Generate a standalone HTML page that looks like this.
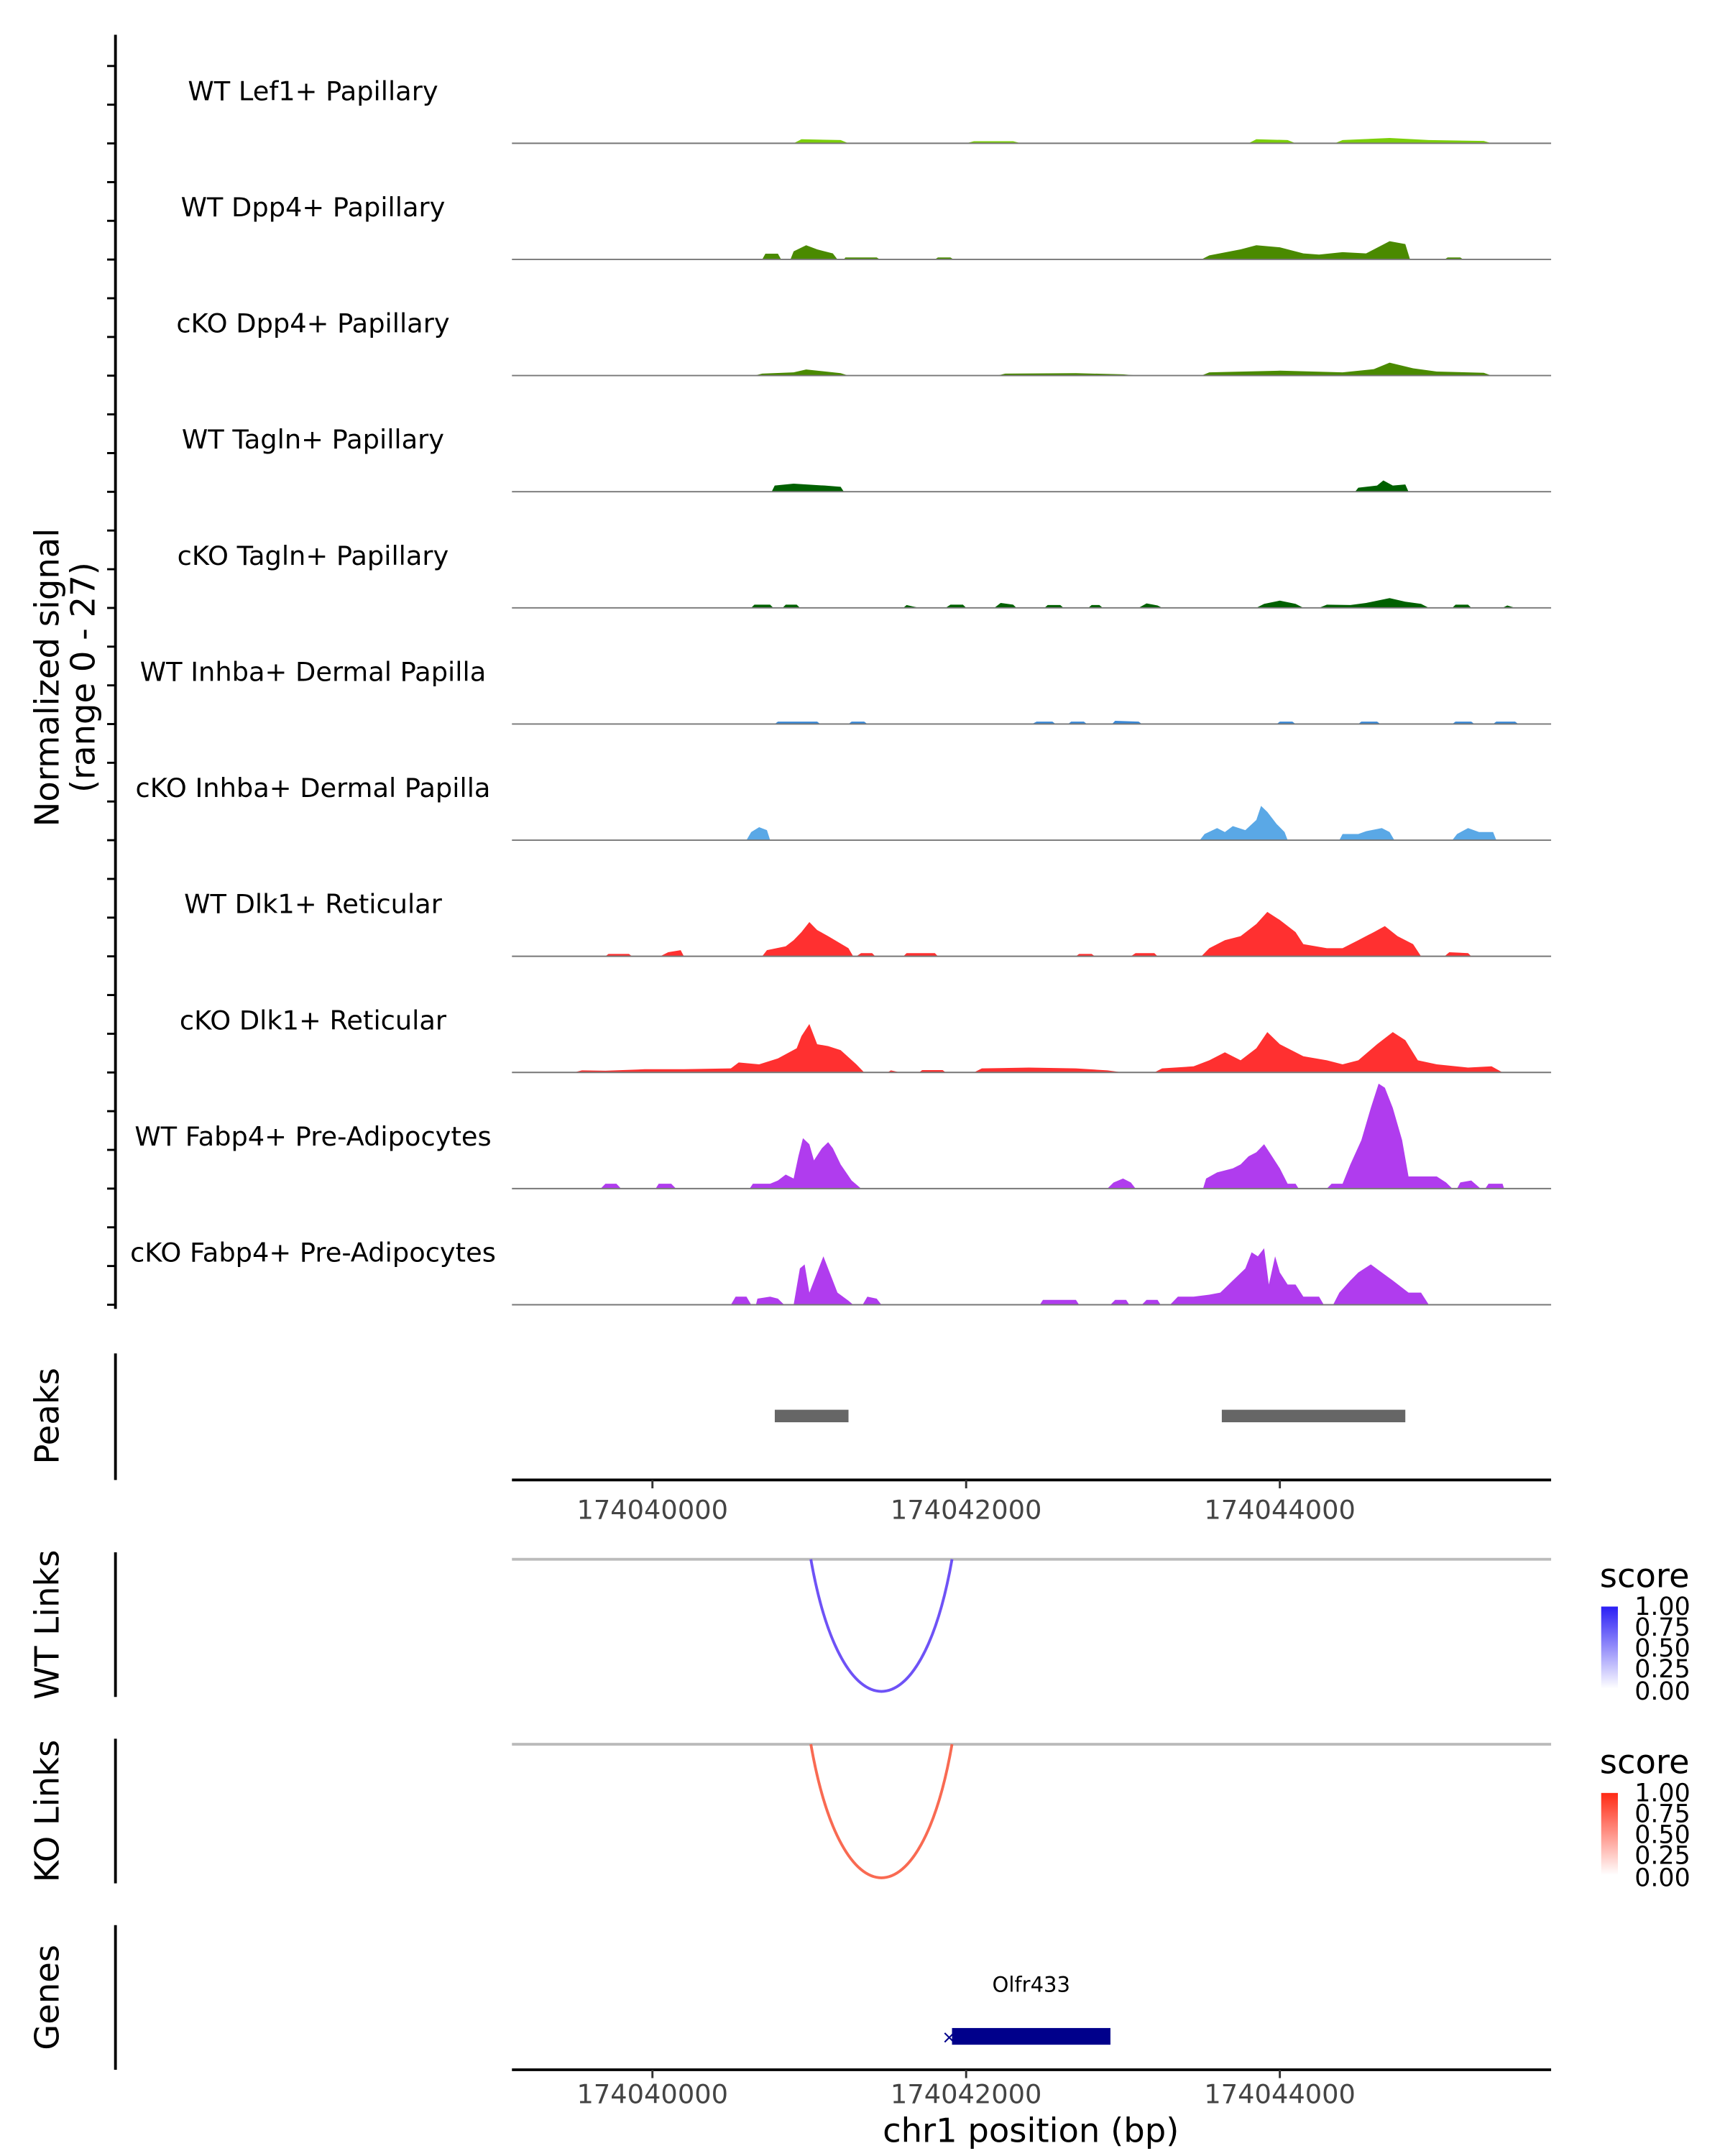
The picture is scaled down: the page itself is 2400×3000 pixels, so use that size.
<!DOCTYPE html>
<html><head><meta charset="utf-8"><style>html,body{margin:0;padding:0;background:#fff}svg{display:block}text{font-family:"DejaVu Sans","Liberation Sans",sans-serif}</style></head>
<body>
<svg id="chart" xmlns="http://www.w3.org/2000/svg" width="2400" height="3000" viewBox="0 0 1240 1550">
<defs>
<linearGradient id="gBlue" x1="0" y1="1" x2="0" y2="0"><stop offset="0" stop-color="#ffffff"/><stop offset="1" stop-color="#2a1ef5"/></linearGradient>
<linearGradient id="gRed" x1="0" y1="1" x2="0" y2="0"><stop offset="0" stop-color="#ffffff"/><stop offset="1" stop-color="#ff2a14"/></linearGradient>
</defs>
<g id="static">
<line x1="83" y1="25" x2="83" y2="941" stroke="#000" stroke-width="2"/>
<text transform="translate(42,487) rotate(-90)" text-anchor="middle" font-size="24" fill="#000">Normalized signal</text>
<text transform="translate(68,487) rotate(-90)" text-anchor="middle" font-size="24" fill="#000">(range 0 - 27)</text>

<line x1="83" y1="973" x2="83" y2="1064" stroke="#000" stroke-width="2"/>
<text transform="translate(42,1018) rotate(-90)" text-anchor="middle" font-size="24">Peaks</text>
<line x1="368" y1="1064" x2="1115" y2="1064" stroke="#000" stroke-width="2"/>

<line x1="83" y1="1116" x2="83" y2="1220" stroke="#000" stroke-width="2"/>
<text transform="translate(42,1168) rotate(-90)" text-anchor="middle" font-size="24">WT Links</text>
<line x1="368" y1="1121" x2="1115" y2="1121" stroke="#bbb" stroke-width="2"/>

<line x1="83" y1="1250" x2="83" y2="1354" stroke="#000" stroke-width="2"/>
<text transform="translate(42,1302) rotate(-90)" text-anchor="middle" font-size="24">KO Links</text>
<line x1="368" y1="1254" x2="1115" y2="1254" stroke="#bbb" stroke-width="2"/>

<line x1="83" y1="1384" x2="83" y2="1488" stroke="#000" stroke-width="2"/>
<text transform="translate(42,1436) rotate(-90)" text-anchor="middle" font-size="24">Genes</text>
<line x1="368" y1="1488" x2="1115" y2="1488" stroke="#000" stroke-width="2"/>
<text x="741" y="1540" text-anchor="middle" font-size="24">chr1 position (bp)</text>

<g>
<text x="1150" y="1141" font-size="24">score</text>
<rect x="1151" y="1155" width="12" height="59" fill="url(#gBlue)"/>
<text x="1175" y="1161" font-size="18">1.00</text><text x="1175" y="1176" font-size="18">0.75</text><text x="1175" y="1191" font-size="18">0.50</text><text x="1175" y="1206" font-size="18">0.25</text><text x="1175" y="1222" font-size="18">0.00</text>
</g>
<g>
<text x="1150" y="1275" font-size="24">score</text>
<rect x="1151" y="1289" width="12" height="59" fill="url(#gRed)"/>
<text x="1175" y="1295" font-size="18">1.00</text><text x="1175" y="1310" font-size="18">0.75</text><text x="1175" y="1325" font-size="18">0.50</text><text x="1175" y="1340" font-size="18">0.25</text><text x="1175" y="1356" font-size="18">0.00</text>
</g>
</g>
<g id="dyn"></g>
</svg>
<script>
const trackNames = ["WT Lef1+ Papillary","WT Dpp4+ Papillary","cKO Dpp4+ Papillary","WT Tagln+ Papillary","cKO Tagln+ Papillary","WT Inhba+ Dermal Papilla","cKO Inhba+ Dermal Papilla","WT Dlk1+ Reticular","cKO Dlk1+ Reticular","WT Fabp4+ Pre-Adipocytes","cKO Fabp4+ Pre-Adipocytes"];
const trackColors = ["#7ccf0a","#4a8a00","#4a8a00","#006000","#006000","#3a88d6","#5aa8e6","#ff3030","#ff3030","#b03cee","#b03cee"];
// signal points: [kb offset from 174,040,000, normalized value]
const sigLef1 = [[0.9,0],[0.95,1],[1.2,0.8],[1.25,0],[2.0,0],[2.05,0.5],[2.3,0.5],[2.35,0],[3.8,0],[3.85,1],[4.05,0.8],[4.1,0],[4.35,0],[4.4,0.8],[4.7,1.3],[4.95,0.8],[5.3,0.6],[5.35,0]];
const sigWtDpp4 = [[0.7,0],[0.72,1.4],[0.8,1.4],[0.82,0],[0.88,0],[0.9,2],[0.98,3.5],[1.05,2.5],[1.15,1.5],[1.18,0],[1.22,0],[1.23,0.5],[1.43,0.5],[1.45,0],[1.8,0],[1.82,0.5],[1.9,0.5],[1.92,0],[3.5,0],[3.55,1],[3.75,2.5],[3.85,3.5],[4.0,3],[4.15,1.5],[4.25,1.2],[4.4,1.8],[4.55,1.5],[4.6,2.5],[4.7,4.5],[4.8,3.8],[4.83,0],[5.05,0],[5.07,0.5],[5.15,0.5],[5.17,0]];
const sigKoDpp4 = [[0.65,0],[0.7,0.5],[0.9,0.8],[0.98,1.5],[1.2,0.6],[1.25,0],[2.2,0],[2.25,0.5],[2.7,0.6],[3.0,0.3],[3.1,0],[3.5,0],[3.55,0.8],[4.0,1.2],[4.4,0.8],[4.6,1.6],[4.7,3.2],[4.85,1.8],[5.0,1.0],[5.3,0.7],[5.35,0]];
const sigWtTagln = [[0.76,0],[0.78,1.5],[0.9,2],[1.1,1.5],[1.2,1.2],[1.22,0],[4.48,0],[4.5,1],[4.62,1.5],[4.66,2.8],[4.72,1.5],[4.8,1.8],[4.82,0]];
const sigKoTagln = [[0.63,0],[0.65,0.8],[0.75,0.8],[0.77,0],[0.83,0],[0.85,0.8],[0.92,0.8],[0.94,0],[1.6,0],[1.62,0.7],[1.7,0],[1.87,0],[1.9,0.8],[1.98,0.8],[2.0,0],[2.18,0],[2.22,1.2],[2.3,0.8],[2.32,0],[2.5,0],[2.52,0.7],[2.6,0.7],[2.62,0],[2.78,0],[2.8,0.7],[2.85,0.7],[2.87,0],[3.1,0],[3.15,1.1],[3.22,0.6],[3.25,0],[3.85,0],[3.9,1],[4.0,1.8],[4.1,1],[4.15,0],[4.25,0],[4.3,0.8],[4.45,0.7],[4.55,1.2],[4.7,2.4],[4.8,1.5],[4.9,1],[4.95,0],[5.1,0],[5.12,0.8],[5.2,0.8],[5.22,0],[5.42,0],[5.45,0.6],[5.5,0]];
const sigWtInhba = [[0.78,0],[0.8,0.6],[1.05,0.6],[1.07,0],[1.25,0],[1.27,0.6],[1.35,0.6],[1.37,0],[2.42,0],[2.45,0.6],[2.55,0.6],[2.57,0],[2.65,0],[2.67,0.6],[2.75,0.6],[2.77,0],[2.93,0],[2.95,0.8],[3.1,0.6],[3.12,0],[3.98,0],[4.0,0.6],[4.08,0.6],[4.1,0],[4.5,0],[4.52,0.6],[4.62,0.6],[4.64,0],[5.1,0],[5.12,0.6],[5.22,0.6],[5.24,0],[5.36,0],[5.38,0.6],[5.5,0.6],[5.52,0]];
const sigKoInhba = [[0.6,0],[0.63,2],[0.68,3.2],[0.73,2.5],[0.75,0],[3.49,0],[3.52,1.5],[3.6,3],[3.65,2],[3.7,3.5],[3.78,2.5],[3.85,5],[3.88,8.5],[3.92,7],[3.98,4],[4.03,2],[4.05,0],[4.38,0],[4.4,1.5],[4.5,1.5],[4.55,2.2],[4.65,3],[4.7,2],[4.73,0],[5.1,0],[5.13,1.5],[5.2,3],[5.27,2],[5.36,2],[5.38,0]];
const sigWtDlk1 = [[-0.3,0],[-0.28,0.6],[-0.15,0.6],[-0.13,0],[0.05,0],[0.1,1],[0.18,1.5],[0.2,0],[0.7,0],[0.73,1.5],[0.85,2.5],[0.9,4],[0.95,6],[1.0,8.5],[1.05,6.5],[1.12,5],[1.25,2],[1.28,0],[1.3,0],[1.33,0.8],[1.4,0.8],[1.42,0],[1.6,0],[1.62,0.8],[1.8,0.8],[1.82,0],[2.7,0],[2.72,0.6],[2.8,0.6],[2.82,0],[3.05,0],[3.08,0.8],[3.2,0.8],[3.22,0],[3.5,0],[3.55,2],[3.65,4],[3.75,5],[3.85,8],[3.92,11],[4.0,9],[4.1,6],[4.15,3],[4.3,2],[4.4,2],[4.5,4],[4.6,6],[4.67,7.5],[4.75,5],[4.85,3],[4.9,0],[5.05,0],[5.08,1],[5.2,0.8],[5.22,0]];
const sigKoDlk1 = [[-0.5,0],[-0.45,0.5],[-0.3,0.4],[-0.05,0.8],[0.2,0.8],[0.5,1],[0.55,2.5],[0.68,2],[0.8,3.5],[0.92,6],[0.95,9],[1.0,12],[1.05,7],[1.12,6.5],[1.2,5.5],[1.3,2],[1.35,0],[1.5,0],[1.52,0.5],[1.58,0],[1.7,0],[1.72,0.6],[1.85,0.6],[1.87,0],[2.05,0],[2.1,1],[2.4,1.2],[2.7,1],[2.9,0.5],[3.0,0],[3.2,0],[3.25,1],[3.45,1.5],[3.55,3],[3.65,5],[3.75,3],[3.85,6],[3.92,10],[4.0,7],[4.15,4],[4.3,3],[4.4,2],[4.5,3],[4.62,7],[4.72,10],[4.8,8],[4.88,3],[5.0,2],[5.2,1.2],[5.35,1.5],[5.42,0]];
const sigWtFabp4 = [[-0.33,0],[-0.3,1.2],[-0.23,1.2],[-0.2,0],[0.02,0],[0.04,1.2],[0.12,1.2],[0.15,0],[0.62,0],[0.64,1.2],[0.75,1.2],[0.8,2],[0.85,3.5],[0.9,2.5],[0.93,8],[0.96,12.5],[1.0,11],[1.03,7],[1.08,10],[1.12,11.5],[1.15,10],[1.2,6],[1.27,2],[1.33,0],[2.9,0],[2.94,1.5],[3.0,2.5],[3.05,1.5],[3.08,0],[3.51,0],[3.53,2.5],[3.6,4],[3.7,5],[3.75,6],[3.8,8],[3.85,9],[3.9,11],[3.95,8],[4.0,5],[4.05,1.2],[4.1,1.2],[4.12,0],[4.3,0],[4.33,1.2],[4.4,1.2],[4.45,6],[4.52,12],[4.58,20],[4.63,26],[4.67,25],[4.72,20],[4.78,12],[4.82,3],[4.9,3],[5.0,3],[5.06,1.5],[5.1,0],[5.13,0],[5.15,1.5],[5.22,2],[5.28,0],[5.31,0],[5.33,1.2],[5.42,1.2],[5.43,0]];
const sigKoFabp4 = [[0.5,0],[0.53,2],[0.6,2],[0.63,0],[0.66,0],[0.67,1.5],[0.75,2],[0.8,1.5],[0.84,0],[0.9,0],[0.94,9],[0.97,10],[1.0,3],[1.05,8],[1.09,12],[1.13,8],[1.18,3],[1.25,1],[1.28,0],[1.34,0],[1.37,2],[1.43,1.5],[1.46,0],[2.47,0],[2.49,1.2],[2.7,1.2],[2.72,0],[2.92,0],[2.95,1.2],[3.02,1.2],[3.04,0],[3.12,0],[3.15,1.2],[3.22,1.2],[3.24,0],[3.3,0],[3.35,2],[3.45,2],[3.55,2.5],[3.62,3],[3.7,6],[3.78,9],[3.82,13],[3.86,12],[3.9,14],[3.93,5],[3.97,12],[4.0,8],[4.05,5],[4.1,5],[4.15,2],[4.25,2],[4.28,0],[4.34,0],[4.38,3],[4.45,6],[4.5,8],[4.58,10],[4.65,8],[4.72,6],[4.82,3],[4.9,3],[4.95,0]];
const signals = [sigLef1,sigWtDpp4,sigKoDpp4,sigWtTagln,sigKoTagln,sigWtInhba,sigKoInhba,sigWtDlk1,sigKoDlk1,sigWtFabp4,sigKoFabp4];
const peakStarts = [0.78, 3.63];
const peakEnds = [1.25, 4.8];
const xTickValues = [174040000, 174042000, 174044000];
const xTickLabels = ["174040000","174042000","174044000"];
const linkStarts = [1.01];
const linkEnds = [1.91];
const linkScores = [0.8];
const geneNames = ["Olfr433"];
const geneStarts = [1.91];
const geneEnds = [2.92];

const NS = "http://www.w3.org/2000/svg";
const g = document.getElementById("dyn");
const X0 = 469, PXKB = 112.75, XL = 368, XR = 1115;
const xScale = kb => X0 + kb * PXKB;
const xBp = bp => xScale((bp - 174040000) / 1000);
const yUnit = 2.9;
function mk(tag, attrs) { const e = document.createElementNS(NS, tag); for (const k in attrs) e.setAttribute(k, attrs[k]); g.appendChild(e); return e; }

for (let k = 0; k <= 32; k++) {
  const y = 938 - k * 27.83;
  const t = mk("line", {x1: 77, y1: y, x2: 83, y2: y, stroke: "#000", "stroke-width": 1.5});
  
  
}

signals.forEach((pts, i) => {
  const base = 103 + i * 83.5;
  const lbl = mk("text", {x: 225, y: base - 31, "text-anchor": "middle", "font-size": 19});
  lbl.textContent = trackNames[i];
  
  
  let d = "M" + xScale(pts[0][0]) + "," + base;
  pts.forEach(p => { d += " L" + xScale(p[0]).toFixed(1) + "," + (base - p[1] * yUnit).toFixed(1); });
  d += " L" + xScale(pts[pts.length - 1][0]) + "," + base + " Z";
  const area = mk("path", {d: d, fill: trackColors[i]});
  
  
  const bl = mk("line", {x1: XL, y1: base, x2: XR, y2: base, stroke: "#777", "stroke-width": 1});
  
  
});

peakStarts.forEach((s, i) => {
  const r = mk("rect", {x: xScale(s), y: 1013.5, width: xScale(peakEnds[i]) - xScale(s), height: 9, fill: "#666"});
  
  
});

[[1064, 1092], [1488, 1512]].forEach(([ay, ty]) => {
  xTickValues.forEach((v, i) => {
    const x = xBp(v);
    const tk = mk("line", {x1: x, y1: ay, x2: x, y2: ay + 6, stroke: "#333", "stroke-width": 1.5});
    
    
    const tl = mk("text", {x: x, y: ty, "text-anchor": "middle", "font-size": 19, fill: "#444"});
    tl.textContent = xTickLabels[i];
    
    
  });
});

function arc(top, bottom, color) {
  linkStarts.forEach((s, i) => {
    const x1 = xScale(s), x2 = xScale(linkEnds[i]);
    const c = top + (bottom - top) / 0.75;
    const p = mk("path", {d: `M${x1},${top} C${x1 + (x2 - x1) * 0.22},${c} ${x2 - (x2 - x1) * 0.22},${c} ${x2},${top}`, fill: "none", stroke: color, "stroke-width": 2, opacity: 0.4 + 0.6 * linkScores[i]});
    
    
  });
}
arc(1121, 1216, "#5a3af5");
arc(1254, 1350, "#f8553a");

geneStarts.forEach((s, i) => {
  const r = mk("rect", {x: xScale(s), y: 1458, width: xScale(geneEnds[i]) - xScale(s), height: 12, fill: "#00008b"});
  
  
  const m = mk("text", {x: xScale(s) - 2, y: 1469, "text-anchor": "middle", "font-size": 13, fill: "#00008b"});
  m.textContent = "×";
  
  
  const t = mk("text", {x: (xScale(s) + xScale(geneEnds[i])) / 2, y: 1432, "text-anchor": "middle", "font-size": 15});
  t.textContent = geneNames[i];
  
  
});
</script>
</body></html>
